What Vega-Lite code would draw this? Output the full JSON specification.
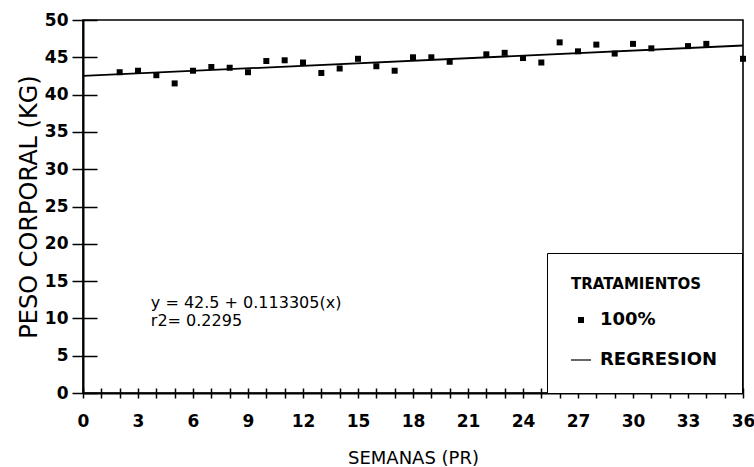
{
  "$schema": "https://vega.github.io/schema/vega-lite/v6.json",
  "width": 660,
  "height": 373,
  "autosize": {"type": "none"},
  "padding": {"left": 83, "top": 20, "right": 11, "bottom": 74},
  "background": "white",
  "config": {
    "view": {"stroke": "black", "strokeWidth": 1.6},
    "font": "DejaVu Sans"
  },
  "datasets": {
    "puntos": [
      {"semana": 2, "peso": 43.0, "trat": "100%"},
      {"semana": 3, "peso": 43.2, "trat": "100%"},
      {"semana": 4, "peso": 42.6, "trat": "100%"},
      {"semana": 5, "peso": 41.5, "trat": "100%"},
      {"semana": 6, "peso": 43.2, "trat": "100%"},
      {"semana": 7, "peso": 43.7, "trat": "100%"},
      {"semana": 8, "peso": 43.6, "trat": "100%"},
      {"semana": 9, "peso": 43.0, "trat": "100%"},
      {"semana": 10, "peso": 44.5, "trat": "100%"},
      {"semana": 11, "peso": 44.6, "trat": "100%"},
      {"semana": 12, "peso": 44.3, "trat": "100%"},
      {"semana": 13, "peso": 42.9, "trat": "100%"},
      {"semana": 14, "peso": 43.5, "trat": "100%"},
      {"semana": 15, "peso": 44.8, "trat": "100%"},
      {"semana": 16, "peso": 43.8, "trat": "100%"},
      {"semana": 17, "peso": 43.2, "trat": "100%"},
      {"semana": 18, "peso": 45.0, "trat": "100%"},
      {"semana": 19, "peso": 45.0, "trat": "100%"},
      {"semana": 20, "peso": 44.4, "trat": "100%"},
      {"semana": 22, "peso": 45.4, "trat": "100%"},
      {"semana": 23, "peso": 45.6, "trat": "100%"},
      {"semana": 24, "peso": 44.9, "trat": "100%"},
      {"semana": 25, "peso": 44.3, "trat": "100%"},
      {"semana": 26, "peso": 47.0, "trat": "100%"},
      {"semana": 27, "peso": 45.8, "trat": "100%"},
      {"semana": 28, "peso": 46.7, "trat": "100%"},
      {"semana": 29, "peso": 45.5, "trat": "100%"},
      {"semana": 30, "peso": 46.8, "trat": "100%"},
      {"semana": 31, "peso": 46.2, "trat": "100%"},
      {"semana": 33, "peso": 46.5, "trat": "100%"},
      {"semana": 34, "peso": 46.8, "trat": "100%"},
      {"semana": 36, "peso": 44.8, "trat": "100%"}
    ],
    "regresion": [
      {"semana": 0, "peso": 42.5},
      {"semana": 36, "peso": 46.58}
    ]
  },
  "resolve": {"axis": {"x": "independent", "y": "independent"}},
  "layer": [
    {
      "data": {"name": "regresion"},
      "mark": {"type": "line", "color": "black", "strokeWidth": 1.8},
      "encoding": {
        "x": {
          "field": "semana", "type": "quantitative",
          "scale": {"domain": [0, 36], "nice": false, "zero": false},
          "axis": {
            "orient": "bottom",
            "values": [0,1,2,3,4,5,6,7,8,9,10,11,12,13,14,15,16,17,18,19,20,21,22,23,24,25,26,27,28,29,30,31,32,33,34,35,36],
            "labelExpr": "datum.value % 3 === 0 ? datum.label : ''",
            "grid": false,
            "domainColor": "black", "domainWidth": 2,
            "tickColor": "black", "tickWidth": 1.5, "tickSize": 5,
            "labelPadding": 15,
            "labelFont": "DejaVu Sans", "labelFontWeight": "bold", "labelFontSize": 17, "labelColor": "black",
            "labelOverlap": false,
            "labelFlush": false,
            "title": "SEMANAS (PR)",
            "titleFont": "DejaVu Sans", "titleFontWeight": "normal", "titleFontSize": 18, "titleColor": "black",
            "titlePadding": 20
          }
        },
        "y": {
          "field": "peso", "type": "quantitative",
          "scale": {"domain": [0, 50], "nice": false},
          "axis": {
            "orient": "left",
            "values": [0,5,10,15,20,25,30,35,40,45,50],
            "grid": false,
            "domainColor": "black", "domainWidth": 2,
            "tickColor": "black", "tickWidth": 1.5, "tickSize": 11,
            "labelPadding": 4,
            "labelFont": "DejaVu Sans", "labelFontWeight": "bold", "labelFontSize": 17, "labelColor": "black",
            "labelOverlap": false,
            "labelFlush": false,
            "title": "PESO CORPORAL (KG)",
            "titleFont": "DejaVu Sans", "titleFontWeight": "normal", "titleFontSize": 24, "titleColor": "black",
            "titlePadding": 3
          }
        }
      }
    },
    {
      "data": {"name": "puntos"},
      "mark": {"type": "point", "filled": true, "opacity": 1, "size": 400, "color": "black"},
      "encoding": {
        "x": {
          "field": "semana", "type": "quantitative",
          "axis": {
            "orient": "bottom",
            "offset": -5,
            "values": [0,1,2,3,4,5,6,7,8,9,10,11,12,13,14,15,16,17,18,19,20,21,22,23,24,25,26,27,28,29,30,31,32,33,34,35,36],
            "labels": false, "domain": false, "grid": false, "title": null,
            "tickColor": "black", "tickWidth": 1.5, "tickSize": 5
          }
        },
        "y": {
          "field": "peso", "type": "quantitative",
          "axis": {
            "orient": "left",
            "offset": -14,
            "values": [0,5,10,15,20,25,30,35,40,45,50],
            "labels": false, "domain": false, "grid": false, "title": null,
            "tickColor": "black", "tickWidth": 1.5, "tickSize": 14
          }
        },
        "shape": {
          "field": "trat", "type": "nominal",
          "scale": {
            "domain": ["100%", "REGRESION"],
            "range": ["M-0.3,-0.3H0.3V0.3H-0.3Z", "M-1,-0.06H1V0.06H-1Z"]
          },
          "legend": {
            "orient": "none",
            "legendX": 464,
            "legendY": 233,
            "title": "TRATAMIENTOS",
            "titleFont": "DejaVu Sans", "titleFontWeight": "bold", "titleFontSize": 15, "titleColor": "black",
            "titlePadding": 18,
            "labelFont": "DejaVu Sans", "labelFontWeight": "bold", "labelFontSize": 18, "labelColor": "black",
            "labelOffset": 9,
            "symbolSize": 400,
            "symbolFillColor": "black",
            "symbolStrokeColor": "black",
            "symbolStrokeWidth": 0,
            "rowPadding": 21,
            "padding": 24,
            "strokeColor": "black",
            "fillColor": "white"
          }
        }
      }
    },
    {
      "data": {"values": [{"eq": ["y = 42.5 + 0.113305(x)", "r2= 0.2295"]}]},
      "mark": {"type": "text", "align": "left", "baseline": "top", "fontSize": 16, "lineHeight": 18, "color": "black", "font": "DejaVu Sans"},
      "encoding": {
        "x": {"datum": 3.7, "type": "quantitative", "axis": null},
        "y": {"datum": 13.1, "type": "quantitative", "axis": null},
        "text": {"field": "eq"}
      }
    }
  ]
}
